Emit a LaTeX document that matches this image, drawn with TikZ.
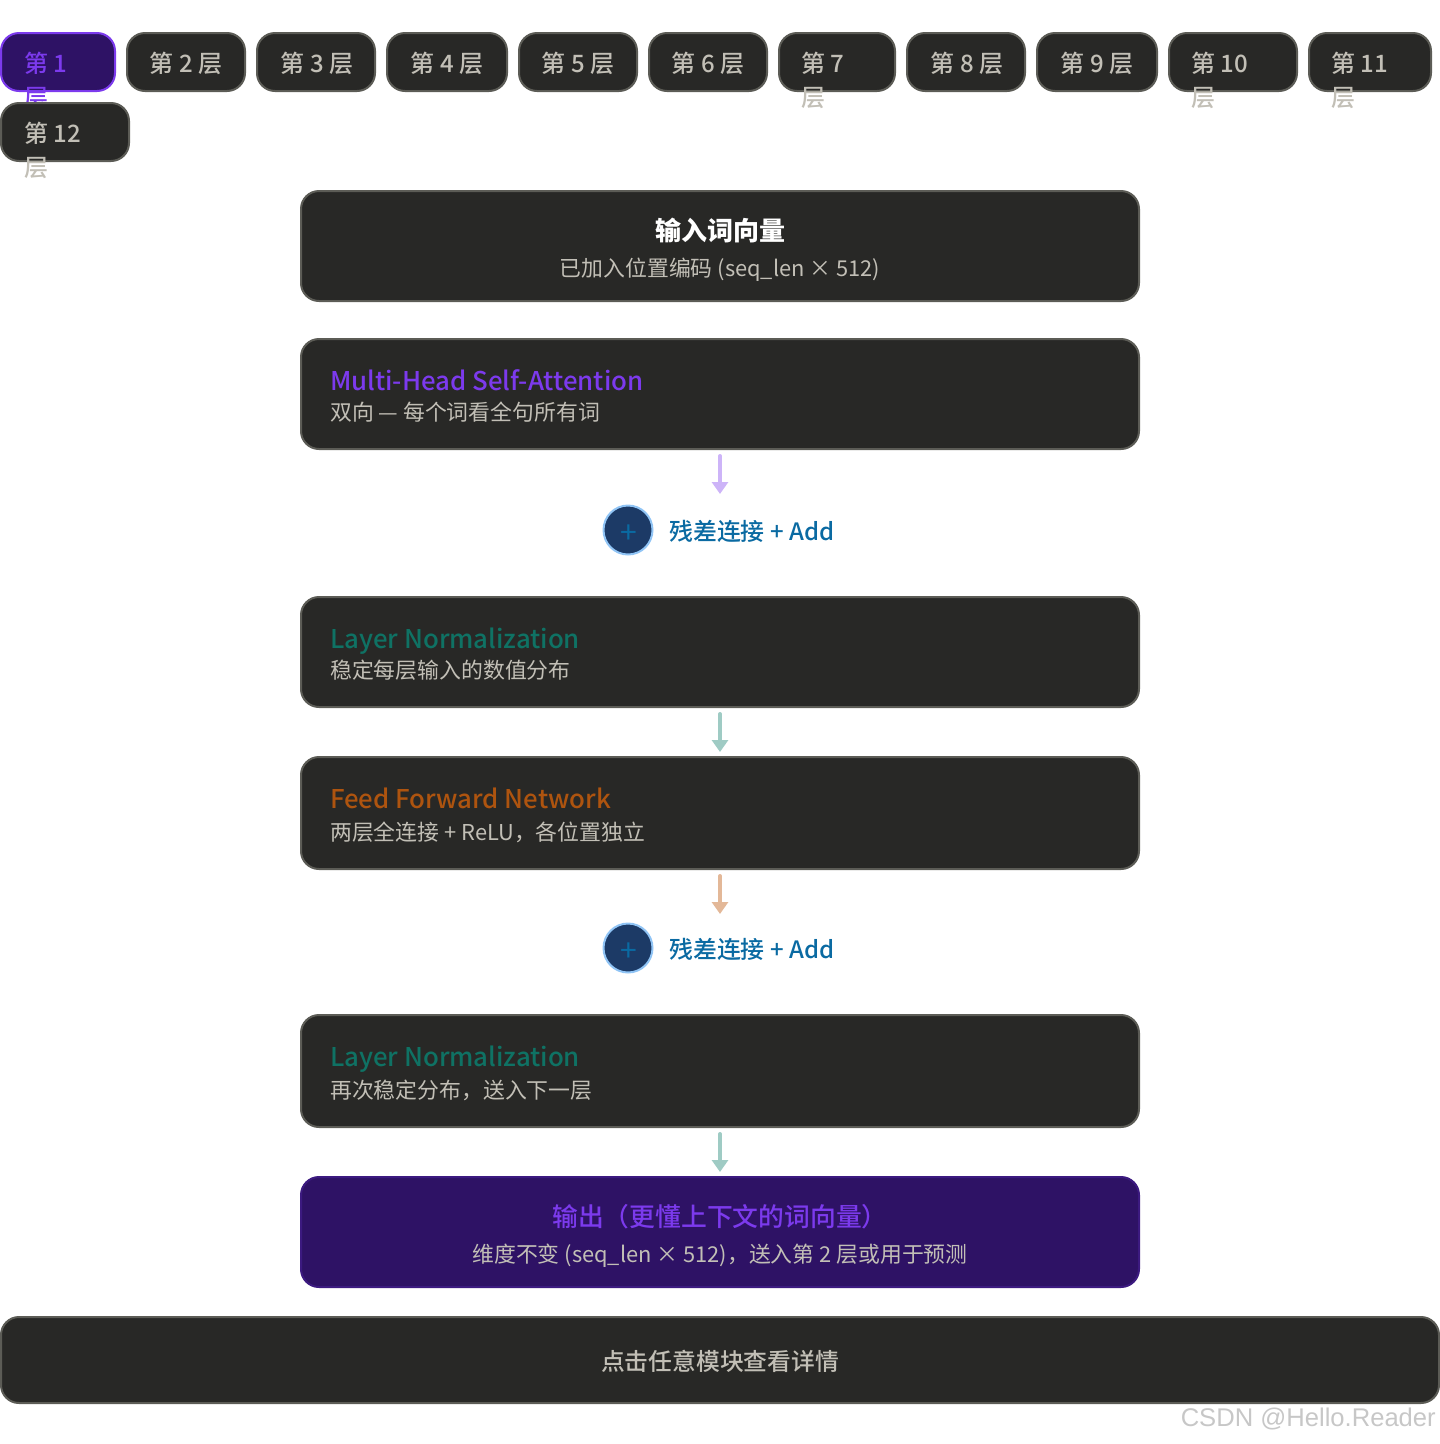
\documentclass[tikz,border=0pt]{standalone}
\usepackage{fontspec}
\setmainfont{Noto Sans CJK SC}
\newfontfamily\medfont[UprightFont=* Medium]{Noto Sans CJK SC}
\newfontfamily\markfont{Liberation Sans}
\usetikzlibrary{arrows.meta}
\definecolor{panelfill}{HTML}{282826}
\definecolor{panelline}{HTML}{5C5C56}
\definecolor{softtext}{HTML}{C2BFB6}
\definecolor{purpletext}{HTML}{7C3AED}
\definecolor{purplefill}{HTML}{2E1265}
\definecolor{purpleline}{HTML}{3C1A80}
\definecolor{tealtext}{HTML}{0F7264}
\definecolor{orangetext}{HTML}{AE540F}
\definecolor{bluetext}{HTML}{0A6AA2}
\definecolor{bluefill}{HTML}{1C3A66}
\definecolor{blueline}{HTML}{90C4F5}
\definecolor{purplearrow}{HTML}{CDB4F8}
\definecolor{tealarrow}{HTML}{9FCBC4}
\definecolor{orangearrow}{HTML}{E3B898}

\begin{document}
\begin{tikzpicture}[x=1pt,y=-1pt,
	panel/.style={draw=panelline, fill=panelfill, line width=2pt, rounded corners=18pt, inner sep=0pt, outer sep=0pt},
	tabbox/.style={panel, minimum height=58pt},
	tabtext/.style={inner sep=0pt, anchor=base west, text=softtext, font=\medfont\fontsize{24}{24}\selectfont},
	headtext/.style={inner sep=0pt, anchor=base west, font=\medfont\fontsize{25.8}{28}\selectfont},
	subtext/.style={inner sep=0pt, anchor=base west, text=softtext, font=\fontsize{21.85}{24}\selectfont},
	addtext/.style={inner sep=0pt, anchor=west, text=bluetext, font=\medfont\fontsize{23.9}{25}\selectfont},
	addmark/.style={circle, draw=blueline, fill=bluefill, line width=2pt, minimum size=49pt, inner sep=0pt},
	addplus/.style={inner sep=0pt, text=bluetext, font=\fontsize{30}{30}\selectfont},
	flow/.style={line width=4pt, line cap=round, -{Triangle[width=16pt,length=12pt]}, shorten <=7pt}
	]
	\useasboundingbox (0,0) rectangle (1440,1444);
	
	% layer tabs
	\node[tabbox, draw=purpletext, fill=purplefill, minimum width=114pt] (tabA) at (58,62) {};
	\node[tabtext, text=purpletext] (tabAtop) at (24,72) {第 1};
	\node[tabtext, text=purpletext] (tabAlow) at (24,106) {层};
	
	\foreach \nm/\xa/\tw/\xt/\lbl in {tabB/186/118/186/第 2 层, tabC/316/118/317/第 3 层, tabD/447/120/447/第 4 层, tabE/578/118/578/第 5 层, tabF/708/118/708/第 6 层, tabH/966/118/967/第 8 层, tabI/1097/120/1097/第 9 层}{
		\node[tabbox, minimum width=\tw pt] (\nm) at (\xa,62) {};
		\node[tabtext, anchor=base] (\nm text) at (\xt,72) {\lbl};
	}
	
	\foreach \nm/\xa/\tw/\xb/\lbl in {tabG/837/116/801/第 7, tabJ/1233/128/1191/第 10, tabK/1370/122/1331/第 11}{
		\node[tabbox, minimum width=\tw pt] (\nm) at (\xa,62) {};
		\node[tabtext] (\nm top) at (\xb,72) {\lbl};
		\node[tabtext] (\nm low) at (\xb,106) {层};
	}
	
	\node[tabbox, minimum width=128pt] (tabL) at (65,132) {};
	\node[tabtext] (tabLtop) at (24,142) {第 12};
	\node[tabtext] (tabLlow) at (24,176) {层};
	
	% input
	\node[panel, minimum width=838pt, minimum height=110pt] (input) at (720,246) {};
	\node[inner sep=0pt, text=white, font=\fontsize{26}{26}\selectfont\bfseries] (inputhead) at (720,231) {输入词向量};
	\node[subtext, anchor=base] (inputsub) at (720,276) {已加入位置编码 (seq\_len × 512)};
	
	% attention
	\node[panel, minimum width=838pt, minimum height=110pt] (attn) at (720,394) {};
	\node[headtext, text=purpletext] (attnhead) at (330,390) {Multi-Head Self-Attention};
	\node[subtext] (attnsub) at (330,420) {双向 — 每个词看全句所有词};
	
	% first add
	\node[addmark] (addA) at (628,530) {};
	\node[addplus] (addAplus) at (629,534) {+};
	\node[addtext] (addAtext) at (669,531) {残差连接 + Add};
	\coordinate (addAtop) at (720,494);
	
	% first norm
	\node[panel, minimum width=838pt, minimum height=110pt] (normA) at (720,652) {};
	\node[headtext, text=tealtext] (normAhead) at (330,648) {Layer Normalization};
	\node[subtext] (normAsub) at (330,678) {稳定每层输入的数值分布};
	
	% feed forward
	\node[panel, minimum width=838pt, minimum height=112pt] (ffn) at (720,813) {};
	\node[headtext, text=orangetext] (ffnhead) at (330,808) {Feed Forward Network};
	\node[subtext] (ffnsub) at (330,840) {两层全连接 + ReLU，各位置独立};
	
	% second add
	\node[addmark] (addB) at (628,948) {};
	\node[addplus] (addBplus) at (629,952) {+};
	\node[addtext] (addBtext) at (669,949) {残差连接 + Add};
	\coordinate (addBtop) at (720,914);
	
	% second norm
	\node[panel, minimum width=838pt, minimum height=112pt] (normB) at (720,1071) {};
	\node[headtext, text=tealtext] (normBhead) at (330,1066) {Layer Normalization};
	\node[subtext] (normBsub) at (330,1098) {再次稳定分布，送入下一层};
	
	% output
	\node[panel, draw=purpleline, fill=purplefill, minimum width=838pt, minimum height=110pt] (output) at (720,1232) {};
	\node[inner sep=0pt, text=purpletext, font=\medfont\fontsize{25.8}{26}\selectfont] (outputhead) at (720,1217) {输出（更懂上下文的词向量）};
	\node[subtext, anchor=base] (outputsub) at (720,1262) {维度不变 (seq\_len × 512)，送入第 2 层或用于预测};
	
	% arrows
	\draw[flow, draw=purplearrow] (attn.south) -- (addAtop);
	\draw[flow, draw=tealarrow, shorten >=5pt] (normA.south) -- (ffn.north);
	\draw[flow, draw=orangearrow] (ffn.south) -- (addBtop);
	\draw[flow, draw=tealarrow, shorten >=5pt] (normB.south) -- (output.north);
	
	% hint bar
	\node[panel, minimum width=1438pt, minimum height=86pt] (hint) at (720,1360) {};
	\node[inner sep=0pt, text=softtext, font=\medfont\fontsize{23.8}{24}\selectfont] (hinttext) at (720,1361) {点击任意模块查看详情};
	
	\node[inner sep=0pt, anchor=east, text=black!22, font=\markfont\fontsize{25.6}{28}\selectfont] (mark) at (1436,1419) {CSDN @Hello.Reader};
\end{tikzpicture}
\end{document}
